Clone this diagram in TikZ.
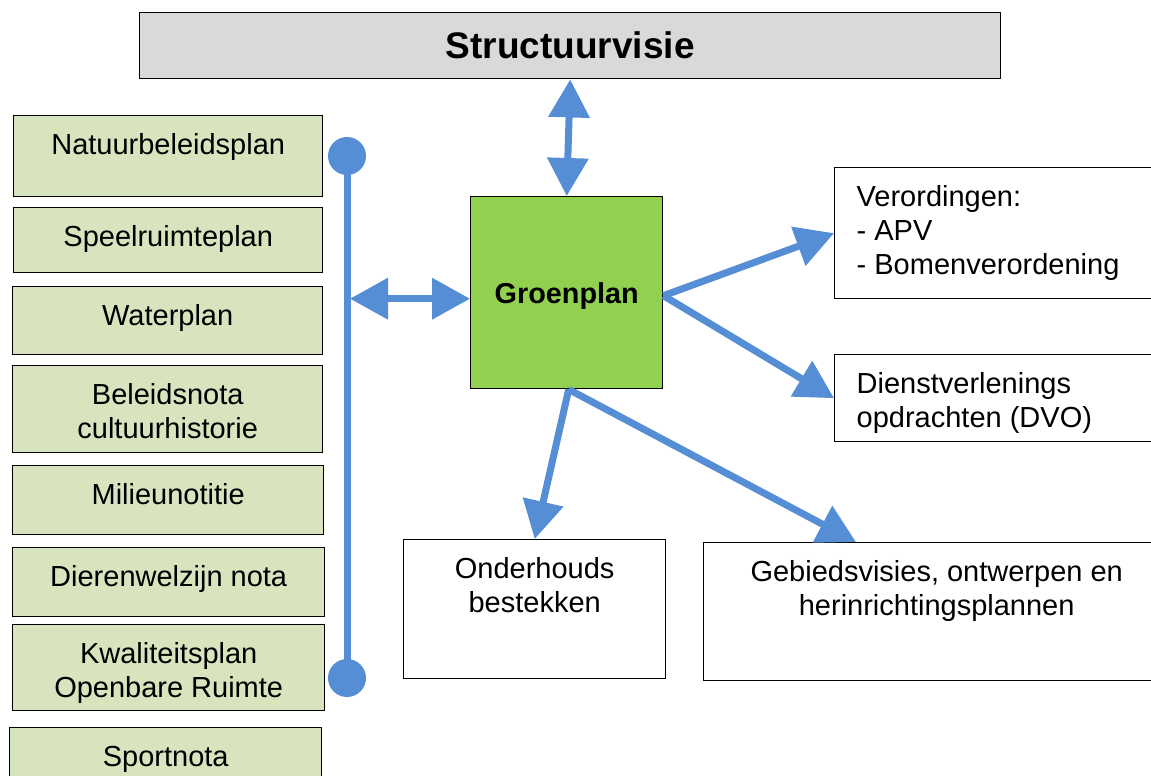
\documentclass[tikz,border=0pt]{standalone}
\usepackage{fontspec}
\setmainfont{Liberation Sans}
\usetikzlibrary{arrows.meta}
\definecolor{arrowblue}{HTML}{558ED5}
\definecolor{lightgreen}{HTML}{D7E4BD}
\definecolor{groengreen}{HTML}{92D050}
\definecolor{greybox}{HTML}{D9D9D9}
\newcommand{\bodyfont}{\fontsize{14.5pt}{17pt}\selectfont}
\newcommand{\tb}[3]{\parbox[t][#2][t]{#1}{\bodyfont\centering\rule{0pt}{19.5pt}#3}}
\newcommand{\lb}[3]{\parbox[t][#2][t]{#1}{\bodyfont\raggedright\leftskip=11pt\rule{0pt}{19.5pt}#3}}
\tikzset{
  boxbase/.style={draw=black, line width=0.7pt, inner sep=0pt, anchor=north west},
  greenbox/.style={boxbase, fill=lightgreen},
  whitebox/.style={boxbase, fill=white},
  arr/.style={draw=arrowblue, line width=3.5pt, -{Triangle[length=19pt, width=20pt]}},
  darr/.style={draw=arrowblue, line width=3.5pt, {Triangle[length=19pt, width=20pt]}-{Triangle[length=19pt, width=20pt]}},
  barline/.style={draw=arrowblue, line width=3.5pt},
  dot/.style={fill=arrowblue}
}
\begin{document}
\begin{tikzpicture}[x=0.5pt, y=-0.5pt]
\clip (0,0) rectangle (1151,776);
\fill[white] (0,0) rectangle (1151,776);

% top box
\node[boxbase, fill=greybox, minimum width=430.5pt, minimum height=33pt,
      font=\bfseries\fontsize{18.5pt}{22pt}\selectfont] (struct) at (139,12) {Structuurvisie};

% left boxes
\node[greenbox] (nat) at (13,115) {\tb{154.5pt}{40.5pt}{Natuurbeleidsplan}};
\node[greenbox] (spel) at (13,207) {\tb{154.5pt}{32.5pt}{Speelruimteplan}};
\node[greenbox] (water) at (12,286) {\tb{155pt}{34pt}{Waterplan}};
\node[greenbox] (cult) at (12,365) {\tb{155pt}{43.5pt}{Beleidsnota\\cultuurhistorie}};
\node[greenbox] (milieu) at (12,465) {\tb{155.5pt}{34.5pt}{Milieunotitie}};
\node[greenbox] (dier) at (12,547) {\tb{156pt}{34.5pt}{Dierenwelzijn nota}};
\node[greenbox] (kwal) at (12,624) {\tb{156pt}{43pt}{Kwaliteitsplan\\Openbare Ruimte}};
\node[greenbox] (sport) at (9,727) {\tb{156pt}{40pt}{Sportnota}};

% central box
\node[boxbase, fill=groengreen, minimum width=96pt, minimum height=96pt, text depth=0pt,
      font=\bfseries\fontsize{14.4pt}{17pt}\selectfont] (groen) at (470,196) {Groenplan};

% right and bottom boxes
\node[whitebox] (verord) at (834,167) {\lb{167.5pt}{65.5pt}{Verordingen:\\- APV\\- Bomenverordening}};
\node[whitebox] (dienst) at (834,354) {\lb{167.5pt}{43.5pt}{Dienstverlenings\\opdrachten (DVO)}};
\node[whitebox] (onder) at (403,539) {\tb{131pt}{69.5pt}{Onderhouds\\bestekken}};
\node[whitebox] (gebied) at (703,542) {\tb{233pt}{69pt}{Gebiedsvisies, ontwerpen en\\herinrichtingsplannen}};

% bar with dots
\coordinate (bartop) at (347,156);
\coordinate (barbot) at (347,678);
\draw[barline] (bartop) -- (barbot);
\fill[dot] (bartop) circle (9.5pt);
\fill[dot] (barbot) circle (9.5pt);

% connectors
\draw[darr] (groen.north) -- (struct.south);
\draw[darr] ([yshift=-3pt]groen.west) -- ([yshift=-3pt,xshift=1.5pt]groen.west -| bartop);
\draw[arr] ([yshift=-1.5pt]groen.east) -- (verord.west);
\draw[arr] ([yshift=-1.5pt]groen.east) -- (dienst.west);
\draw[arr] ([xshift=1pt]groen.south) -- (onder.north);
\draw[arr] ([xshift=1pt]groen.south) -- ([xshift=76.5pt]gebied.north west);
\end{tikzpicture}
\end{document}
